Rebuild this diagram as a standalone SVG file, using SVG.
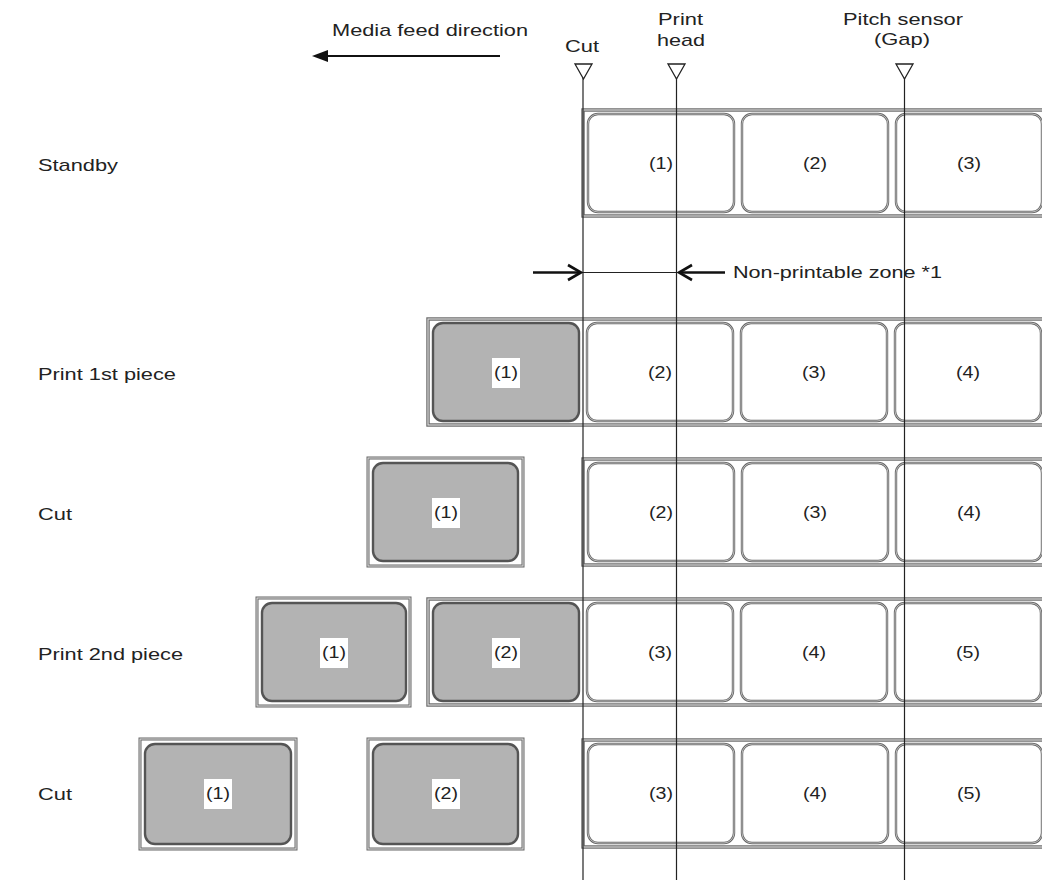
<svg xmlns="http://www.w3.org/2000/svg" width="1042" height="880" viewBox="0 0 1042 880">
<style>
text{font-family:"Liberation Sans",Arial,sans-serif;fill:#222}
.t{font-size:17px}
.num{font-size:16px;text-anchor:middle}
.strip{fill:#fff;stroke:#666;stroke-width:3.4}
.strip2{fill:none;stroke:#e2e2e2;stroke-width:1.1}
.piece{fill:#fff;stroke:#666;stroke-width:3}
.piece2{fill:none;stroke:#e2e2e2;stroke-width:1}
.lw{fill:#fff;stroke:#666;stroke-width:2.4}
.lg{fill:#b3b3b3;stroke:#555;stroke-width:2.4}
.li{fill:none;stroke:#dedede;stroke-width:0.7}
.wb{fill:#fff}
.vl{stroke:#222;stroke-width:1.2;fill:none}
.tri{fill:#fff;stroke:#222;stroke-width:1.3}
.arr{stroke:#111;stroke-width:2.6;fill:none}
</style>

<g id="header">
<text class="t" x="332" y="36" textLength="196" lengthAdjust="spacingAndGlyphs">Media feed direction</text>
<text class="t" x="565" y="52" textLength="34" lengthAdjust="spacingAndGlyphs">Cut</text>
<text class="t" x="658" y="25" textLength="45" lengthAdjust="spacingAndGlyphs">Print</text>
<text class="t" x="657" y="46" textLength="48" lengthAdjust="spacingAndGlyphs">head</text>
<text class="t" x="843" y="25" textLength="120" lengthAdjust="spacingAndGlyphs">Pitch sensor</text>
<text class="t" x="874" y="45" textLength="56" lengthAdjust="spacingAndGlyphs">(Gap)</text>
</g>

<g id="row-labels">
<text class="t" x="38" y="171" textLength="80" lengthAdjust="spacingAndGlyphs">Standby</text>
<text class="t" x="38" y="380" textLength="138" lengthAdjust="spacingAndGlyphs">Print 1st piece</text>
<text class="t" x="38" y="520" textLength="34" lengthAdjust="spacingAndGlyphs">Cut</text>
<text class="t" x="38" y="660" textLength="145" lengthAdjust="spacingAndGlyphs">Print 2nd piece</text>
<text class="t" x="38" y="800" textLength="34" lengthAdjust="spacingAndGlyphs">Cut</text>
</g>

<!-- Row 1: Standby -->
<g id="row1-strip"><rect class="strip" x="583" y="110" width="480" height="106"/><rect class="strip2" x="583" y="110" width="480" height="106"/></g>
<g id="row1-l1"><rect class="lw" x="588" y="114" width="146" height="98" rx="10"/><rect class="li" x="588" y="114" width="146" height="98" rx="10"/><text class="num" x="661" y="169" textLength="24" lengthAdjust="spacingAndGlyphs">(1)</text></g>
<g id="row1-l2"><rect class="lw" x="742" y="114" width="146" height="98" rx="10"/><rect class="li" x="742" y="114" width="146" height="98" rx="10"/><text class="num" x="815" y="169" textLength="24" lengthAdjust="spacingAndGlyphs">(2)</text></g>
<g id="row1-l3"><rect class="lw" x="896" y="114" width="146" height="98" rx="10"/><rect class="li" x="896" y="114" width="146" height="98" rx="10"/><text class="num" x="969" y="169" textLength="24" lengthAdjust="spacingAndGlyphs">(3)</text></g>

<!-- Row 2: Print 1st piece -->
<g id="row2-strip"><rect class="strip" x="428" y="319" width="640" height="106"/><rect class="strip2" x="428" y="319" width="640" height="106"/></g>
<g id="row2-l1"><rect class="lg" x="433" y="323" width="146" height="98" rx="10"/><rect class="wb" x="492" y="358" width="28" height="30"/><text class="num" x="506" y="378" textLength="24" lengthAdjust="spacingAndGlyphs">(1)</text></g>
<g id="row2-l2"><rect class="lw" x="587" y="323" width="146" height="98" rx="10"/><rect class="li" x="587" y="323" width="146" height="98" rx="10"/><text class="num" x="660" y="378" textLength="24" lengthAdjust="spacingAndGlyphs">(2)</text></g>
<g id="row2-l3"><rect class="lw" x="741" y="323" width="146" height="98" rx="10"/><rect class="li" x="741" y="323" width="146" height="98" rx="10"/><text class="num" x="814" y="378" textLength="24" lengthAdjust="spacingAndGlyphs">(3)</text></g>
<g id="row2-l4"><rect class="lw" x="895" y="323" width="146" height="98" rx="10"/><rect class="li" x="895" y="323" width="146" height="98" rx="10"/><text class="num" x="968" y="378" textLength="24" lengthAdjust="spacingAndGlyphs">(4)</text></g>

<!-- Row 3: Cut -->
<g id="row3-piece1"><rect class="piece" x="368" y="458" width="155" height="108"/><rect class="piece2" x="368" y="458" width="155" height="108"/><rect class="lg" x="373" y="463" width="145" height="98" rx="10"/><rect class="wb" x="432" y="498" width="28" height="30"/><text class="num" x="446" y="518" textLength="24" lengthAdjust="spacingAndGlyphs">(1)</text></g>
<g id="row3-strip"><rect class="strip" x="583" y="459" width="480" height="106"/><rect class="strip2" x="583" y="459" width="480" height="106"/></g>
<g id="row3-l2"><rect class="lw" x="588" y="463" width="146" height="98" rx="10"/><rect class="li" x="588" y="463" width="146" height="98" rx="10"/><text class="num" x="661" y="518" textLength="24" lengthAdjust="spacingAndGlyphs">(2)</text></g>
<g id="row3-l3"><rect class="lw" x="742" y="463" width="146" height="98" rx="10"/><rect class="li" x="742" y="463" width="146" height="98" rx="10"/><text class="num" x="815" y="518" textLength="24" lengthAdjust="spacingAndGlyphs">(3)</text></g>
<g id="row3-l4"><rect class="lw" x="896" y="463" width="146" height="98" rx="10"/><rect class="li" x="896" y="463" width="146" height="98" rx="10"/><text class="num" x="969" y="518" textLength="24" lengthAdjust="spacingAndGlyphs">(4)</text></g>

<!-- Row 4: Print 2nd piece -->
<g id="row4-piece1"><rect class="piece" x="257" y="598" width="153" height="108"/><rect class="piece2" x="257" y="598" width="153" height="108"/><rect class="lg" x="262" y="603" width="144" height="98" rx="10"/><rect class="wb" x="320" y="638" width="28" height="30"/><text class="num" x="334" y="658" textLength="24" lengthAdjust="spacingAndGlyphs">(1)</text></g>
<g id="row4-strip"><rect class="strip" x="428" y="599" width="640" height="106"/><rect class="strip2" x="428" y="599" width="640" height="106"/></g>
<g id="row4-l2"><rect class="lg" x="433" y="603" width="146" height="98" rx="10"/><rect class="wb" x="492" y="638" width="28" height="30"/><text class="num" x="506" y="658" textLength="24" lengthAdjust="spacingAndGlyphs">(2)</text></g>
<g id="row4-l3"><rect class="lw" x="587" y="603" width="146" height="98" rx="10"/><rect class="li" x="587" y="603" width="146" height="98" rx="10"/><text class="num" x="660" y="658" textLength="24" lengthAdjust="spacingAndGlyphs">(3)</text></g>
<g id="row4-l4"><rect class="lw" x="741" y="603" width="146" height="98" rx="10"/><rect class="li" x="741" y="603" width="146" height="98" rx="10"/><text class="num" x="814" y="658" textLength="24" lengthAdjust="spacingAndGlyphs">(4)</text></g>
<g id="row4-l5"><rect class="lw" x="895" y="603" width="146" height="98" rx="10"/><rect class="li" x="895" y="603" width="146" height="98" rx="10"/><text class="num" x="968" y="658" textLength="24" lengthAdjust="spacingAndGlyphs">(5)</text></g>

<!-- Row 5: Cut -->
<g id="row5-piece1"><rect class="piece" x="140" y="739" width="156" height="110"/><rect class="piece2" x="140" y="739" width="156" height="110"/><rect class="lg" x="145" y="744" width="146" height="100" rx="10"/><rect class="wb" x="204" y="779" width="28" height="30"/><text class="num" x="218" y="799" textLength="24" lengthAdjust="spacingAndGlyphs">(1)</text></g>
<g id="row5-piece2"><rect class="piece" x="368" y="739" width="155" height="110"/><rect class="piece2" x="368" y="739" width="155" height="110"/><rect class="lg" x="373" y="744" width="145" height="100" rx="10"/><rect class="wb" x="432" y="779" width="28" height="30"/><text class="num" x="446" y="799" textLength="24" lengthAdjust="spacingAndGlyphs">(2)</text></g>
<g id="row5-strip"><rect class="strip" x="583" y="740" width="480" height="107"/><rect class="strip2" x="583" y="740" width="480" height="107"/></g>
<g id="row5-l3"><rect class="lw" x="588" y="744" width="146" height="99" rx="10"/><rect class="li" x="588" y="744" width="146" height="99" rx="10"/><text class="num" x="661" y="799" textLength="24" lengthAdjust="spacingAndGlyphs">(3)</text></g>
<g id="row5-l4"><rect class="lw" x="742" y="744" width="146" height="99" rx="10"/><rect class="li" x="742" y="744" width="146" height="99" rx="10"/><text class="num" x="815" y="799" textLength="24" lengthAdjust="spacingAndGlyphs">(4)</text></g>
<g id="row5-l5"><rect class="lw" x="896" y="744" width="146" height="99" rx="10"/><rect class="li" x="896" y="744" width="146" height="99" rx="10"/><text class="num" x="969" y="799" textLength="24" lengthAdjust="spacingAndGlyphs">(5)</text></g>

<g id="connectors">
<line class="vl" x1="583" y1="78" x2="583" y2="880"/>
<line class="vl" x1="676.5" y1="78" x2="676.5" y2="880"/>
<line class="vl" x1="904.5" y1="78" x2="904.5" y2="880"/>
<line x1="326" y1="56" x2="500" y2="56" stroke="#111" stroke-width="2.2"/>
<polygon points="312,56 328,50 328,62" fill="#111"/>
<line x1="583" y1="272.5" x2="676.5" y2="272.5" stroke="#222" stroke-width="1"/>
<line class="arr" x1="533" y1="272.5" x2="581" y2="272.5"/>
<polyline class="arr" points="568,265 581,272.5 568,280"/>
<line class="arr" x1="679" y1="272.5" x2="725" y2="272.5"/>
<polyline class="arr" points="692,265 679,272.5 692,280"/>
</g>

<g id="markers">
<polygon class="tri" points="575,64 592,64 583.5,79"/>
<polygon class="tri" points="668,64 685,64 676.5,79"/>
<polygon class="tri" points="896,64 913,64 904.5,79"/>
</g>

<g id="note">
<text class="t" x="733" y="278" textLength="209" lengthAdjust="spacingAndGlyphs">Non-printable zone *1</text>
</g>
</svg>
